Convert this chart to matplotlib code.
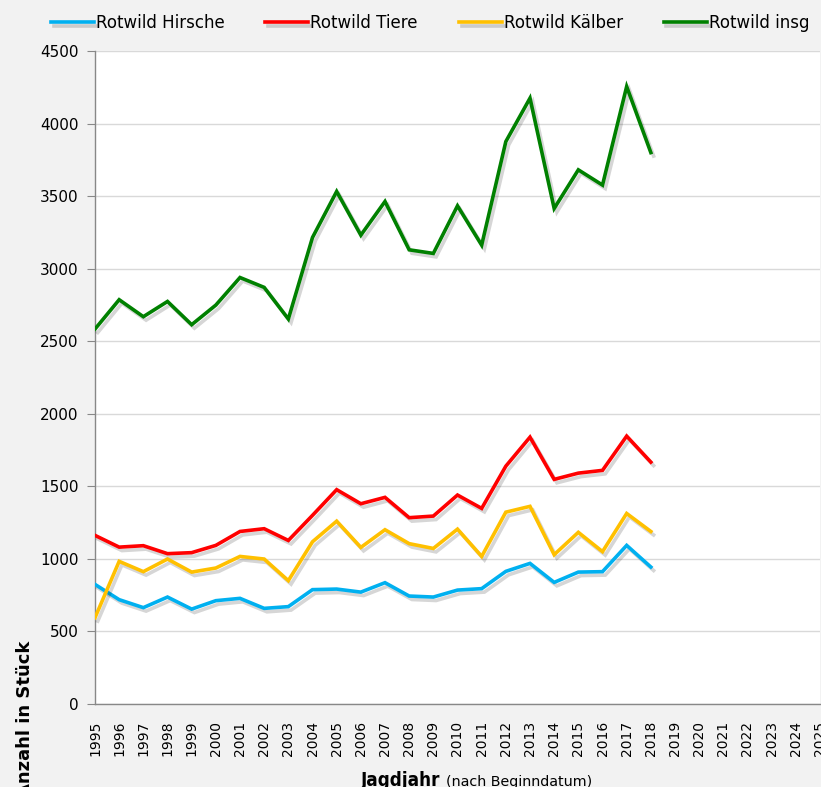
import matplotlib
matplotlib.use("Agg")
import matplotlib.pyplot as plt
import matplotlib.patheffects as pe
from matplotlib.ticker import MultipleLocator

years = list(range(1995, 2019))
hirsche = [824, 719, 664, 737, 654, 712, 728, 659, 671, 788, 792, 771, 836, 744, 737, 785, 795, 914, 969, 838, 909, 912, 1093, 944]
tiere = [1162, 1081, 1091, 1036, 1043, 1093, 1189, 1208, 1127, 1300, 1477, 1380, 1424, 1284, 1295, 1440, 1348, 1639, 1839, 1548, 1591, 1610, 1846, 1667]
kaelber = [595, 983, 912, 999, 909, 937, 1017, 999, 850, 1118, 1260, 1079, 1201, 1105, 1072, 1205, 1017, 1322, 1362, 1029, 1183, 1050, 1313, 1189]
insg = [2584, 2786, 2669, 2774, 2614, 2749, 2939, 2871, 2653, 3215, 3532, 3231, 3463, 3130, 3105, 3433, 3162, 3876, 4175, 3415, 3681, 3576, 4255, 3800]

series_names = ["Rotwild Hirsche", "Rotwild Tiere", "Rotwild Kälber", "Rotwild insg"]
series_values = [hirsche, tiere, kaelber, insg]
colors = ["#00b0f0", "#ff0000", "#ffc000", "#008000"]
x_tick_labels = [str(y) for y in range(1995, 2026)]

fig = plt.figure(figsize=(8.21, 7.87), dpi=100, facecolor="#f2f2f2")
ax = fig.add_axes([95/821, 1 - 704/787, 725/821, 653/787])
ax.set_facecolor("white")

shadow = [pe.SimpleLineShadow(offset=(2, -2.5), shadow_color="black", alpha=0.16), pe.Normal()]
handles = []
for name, vals, c in zip(series_names, series_values, colors):
    (h,) = ax.plot(years, vals, color=c, lw=2.6, label=name, path_effects=shadow,
                   solid_joinstyle="miter", zorder=3)
    handles.append(h)

ax.set_xlim(1995, 2025)
ax.set_ylim(0, 4500)
ax.set_xticks(range(1995, 2026))
ax.set_xticklabels(x_tick_labels, rotation=90, fontsize=10)
ax.xaxis.set_minor_locator(MultipleLocator(5))
ax.tick_params(axis="x", which="major", length=0, pad=12)
ax.tick_params(axis="x", which="minor", length=5, color="#888888", width=1)
ax.yaxis.set_major_locator(MultipleLocator(500))
ax.tick_params(axis="y", which="major", length=6, color="#888888", labelsize=11, pad=6)
ax.grid(axis="x", which="minor", color="#d9d9d9", lw=1)
ax.grid(axis="y", which="major", color="#d9d9d9", lw=1)
ax.set_axisbelow(True)
for s in ["top", "right"]:
    ax.spines[s].set_visible(False)
for s in ["left", "bottom"]:
    ax.spines[s].set_color("#888888")
    ax.spines[s].set_linewidth(1)

fig.text(25/821, 1 - 641/787, "Anzahl in Stück", rotation=90, ha="center", va="top",
         fontsize=13, fontweight="bold")
fig.text(361/821, 1 - 786/787, "Jagdjahr", ha="left", va="baseline", fontsize=13.5,
         fontweight="bold", fontstretch="condensed")
fig.text(446/821, 1 - 786/787, "(nach Beginndatum)", ha="left", va="baseline", fontsize=10.3)

fig.legend(handles=handles, labels=series_names, loc="center", ncol=4,
           bbox_to_anchor=(430/821, 1 - 23/787), frameon=False, fontsize=12,
           handlelength=2.58, handletextpad=0.12, columnspacing=2.45, borderaxespad=0)

fig.savefig("out.png", dpi=100, facecolor=fig.get_facecolor())
